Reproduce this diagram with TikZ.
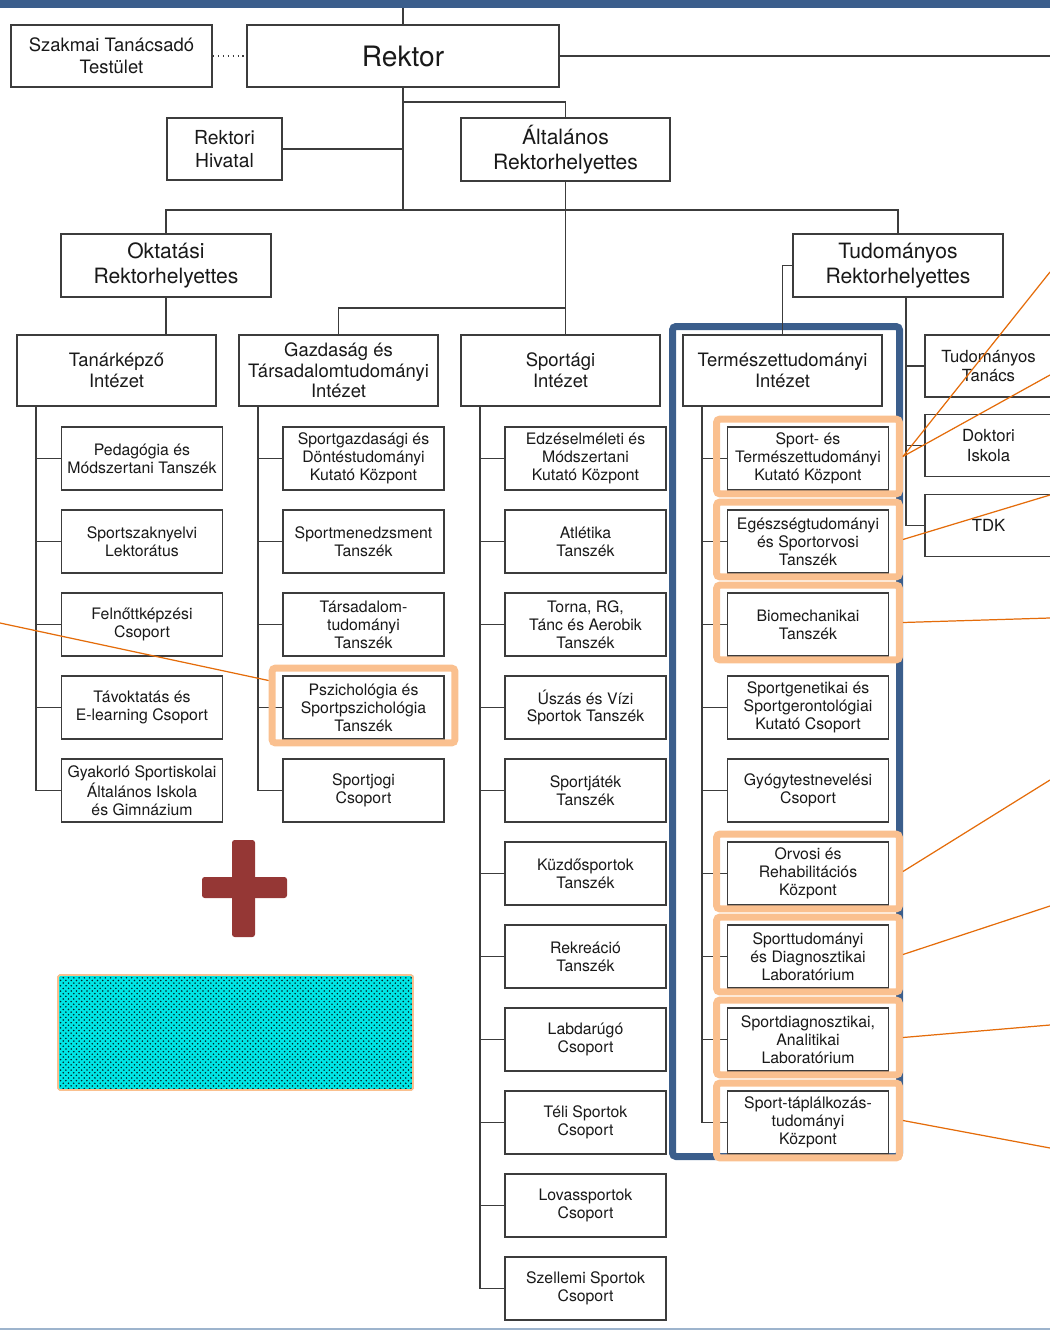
\documentclass[tikz,border=0pt]{standalone}
\usepackage{fontspec}
\setmainfont{TeX Gyre Heros}
\usetikzlibrary{fit,patterns}

\definecolor{frameBlue}{RGB}{59,94,140}
\definecolor{lineBlue}{RGB}{157,180,205}
\definecolor{peach}{RGB}{250,192,143}
\definecolor{ptrOrange}{RGB}{228,108,10}
\definecolor{plusRed}{RGB}{149,55,53}
\definecolor{boxGray}{RGB}{60,60,60}
\definecolor{textGray}{RGB}{25,25,25}
\definecolor{tileCyan}{RGB}{0,230,230}

\tikzset{
	orgbox/.style={rectangle, draw=boxGray, line width=1.1pt, fill=white, text=textGray, align=center, inner sep=1pt},
	leadbox/.style={orgbox, minimum width=4.2cm, minimum height=1.26cm, font=\fontsize{12}{14}\selectfont},
	instbox/.style={orgbox, minimum width=3.98cm, minimum height=1.42cm, font=\fontsize{10.5}{11.8}\selectfont},
	unitbox/.style={orgbox, minimum width=3.22cm, minimum height=1.26cm, font=\fontsize{9}{10.2}\selectfont},
	sidebox/.style={orgbox, minimum width=2.54cm, minimum height=1.24cm, font=\fontsize{9.5}{11}\selectfont},
	conn/.style={draw=boxGray, line width=0.8pt},
	hilite/.style={draw=peach, line width=0.14cm, rounded corners=2pt, inner xsep=0.2cm, inner ysep=0.1cm, yshift=0.04cm},
	pointer/.style={draw=ptrOrange, line width=0.7pt}
}

\begin{document}
\begin{tikzpicture}[x=0.02cm, y=-0.02cm]
	\useasboundingbox (0,0) rectangle (1050,1331);

	% page bars
	\fill[frameBlue] (0,0) rectangle (1050,8);
	\draw[lineBlue, line width=1.5pt] (0,1329) -- (1050,1329);

	% frame round the natural science institute
	\draw[frameBlue, line width=0.14cm, rounded corners=2pt] (672.5,326.5) rectangle (899.5,1156.5);

	% top level
	\node[orgbox, minimum width=4.02cm, minimum height=1.24cm, font=\fontsize{10.5}{12.5}\selectfont](szakmaiBox) at (111.5,56){Szakmai Tanácsadó\\Testület};
	\node[orgbox, minimum width=6.24cm, minimum height=1.24cm, font=\fontsize{16}{18}\selectfont](rektorBox) at (403,56){Rektor};
	\node[orgbox, minimum width=2.3cm, minimum height=1.24cm, font=\fontsize{11}{13}\selectfont](hivatalBox) at (224.5,149){Rektori\\Hivatal};
	\node[leadbox, minimum width=4.18cm](altBox) at (565.5,149.5){Általános\\Rektorhelyettes};
	\node[leadbox](oktBox) at (166,265.5){Oktatási\\Rektorhelyettes};
	\node[leadbox](tudBox) at (898,265.5){Tudományos\\Rektorhelyettes};

	% institutes
	\node[instbox](tanarBox) at (116.5,370.5){Tanárképző\\Intézet};
	\node[instbox](gazdBox) at (338.5,370.5){Gazdaság és\\Társadalomtudományi\\Intézet};
	\node[instbox](sportagiBox) at (560.5,370.5){Sportági\\Intézet};
	\node[instbox](termBox) at (782.5,370.5){Természettudományi\\Intézet};

	\node[sidebox](tanacsBox) at (988.5,366){Tudományos\\Tanács};
	\node[sidebox](doktoriBox) at (988.5,445.5){Doktori\\Iskola};
	\node[sidebox](tdkBox) at (988.5,525.5){TDK};

	% Tanárképző Intézet
	\node[unitbox](pedBox) at (142,458.5){Pedagógia és\\Módszertani Tanszék};
	\node[unitbox](nyelvBox) at (142,541.5){Sportszaknyelvi\\Lektorátus};
	\node[unitbox](felnottBox) at (142,624.5){Felnőttképzési\\Csoport};
	\node[unitbox](tavBox) at (142,707.5){Távoktatás és\\E-learning Csoport};
	\node[unitbox](gyakBox) at (142,790.5){Gyakorló Sportiskolai\\Általános Iskola\\és Gimnázium};

	% Gazdaság és Társadalomtudományi Intézet
	\node[unitbox](dontesBox) at (363.5,458.5){Sportgazdasági és\\Döntéstudományi\\Kutató Központ};
	\node[unitbox](menedzsBox) at (363.5,541.5){Sportmenedzsment\\Tanszék};
	\node[unitbox](tarsBox) at (363.5,624.5){Társadalom-\\tudományi\\Tanszék};
	\node[unitbox](pszichBox) at (363.5,707.5){Pszichológia és\\Sportpszichológia\\Tanszék};
	\node[unitbox](jogiBox) at (363.5,790.5){Sportjogi\\Csoport};

	% Sportági Intézet
	\node[unitbox](edzesBox) at (585.5,458.5){Edzéselméleti és\\Módszertani\\Kutató Központ};
	\node[unitbox](atlBox) at (585.5,541.5){Atlétika\\Tanszék};
	\node[unitbox](tornaBox) at (585.5,624.5){Torna, RG,\\Tánc és Aerobik\\Tanszék};
	\node[unitbox](uszasBox) at (585.5,707.5){Úszás és Vízi\\Sportok Tanszék};
	\node[unitbox](jatekBox) at (585.5,790.5){Sportjáték\\Tanszék};
	\node[unitbox](kuzdoBox) at (585.5,873.5){Küzdősportok\\Tanszék};
	\node[unitbox](rekreBox) at (585.5,956.5){Rekreáció\\Tanszék};
	\node[unitbox](labdaBox) at (585.5,1039.5){Labdarúgó\\Csoport};
	\node[unitbox](teliBox) at (585.5,1122.5){Téli Sportok\\Csoport};
	\node[unitbox](lovasBox) at (585.5,1205.5){Lovassportok\\Csoport};
	\node[unitbox](szellemBox) at (585.5,1288.5){Szellemi Sportok\\Csoport};

	% Természettudományi Intézet
	\node[unitbox](sportTermBox) at (808,458.5){Sport- és\\Természettudományi\\Kutató Központ};
	\node[unitbox](egeszBox) at (808,541.5){Egészségtudományi\\és Sportorvosi\\Tanszék};
	\node[unitbox](biomechBox) at (808,624.5){Biomechanikai\\Tanszék};
	\node[unitbox](genetBox) at (808,707.5){Sportgenetikai és\\Sportgerontológiai\\Kutató Csoport};
	\node[unitbox](gyogyBox) at (808,790.5){Gyógytestnevelési\\Csoport};
	\node[unitbox](orvosiBox) at (808,873.5){Orvosi és\\Rehabilitációs\\Központ};
	\node[unitbox](sporttudBox) at (808,956.5){Sporttudományi\\és Diagnosztikai\\Laboratórium};
	\node[unitbox](diagBox) at (808,1039.5){Sportdiagnosztikai,\\Analitikai\\Laboratórium};
	\node[unitbox](taplalkBox) at (808,1122.5){Sport-táplálkozás-\\tudományi\\Központ};

	% connectors of the upper levels
	\coordinate (split) at (403,210);
	\coordinate (gazdSplit) at (566,308);
	\coordinate (tudTrunk) at (906,525.5);
	\coordinate (rektorEnd) at (1050,56);
	\draw[conn, dotted] (szakmaiBox.east) -- (rektorBox.west);
	\draw[conn] (rektorBox.north) -- (rektorBox.north |- 0,8);
	\draw[conn] (rektorBox.east) -- (rektorEnd);
	\draw[conn] (rektorBox.south) -- (split);
	\draw[conn] (rektorBox.south) -- ++(0,14) -| (altBox.north);
	\draw[conn] (hivatalBox.east) -- (hivatalBox.east -| split);
	\draw[conn] (oktBox.north) |- (split) -| (tudBox.north);
	\draw[conn] (altBox.south) -- (altBox.south |- sportagiBox.north);
	\draw[conn] (gazdBox.north) |- (gazdSplit);
	\draw[conn] (oktBox.south) -- (oktBox.south |- tanarBox.north);
	\draw[conn] (tudBox.west) -| (termBox.north);
	\draw[conn] (tudBox.south -| tudTrunk) -- (tudTrunk);
	\draw[conn] (tanacsBox.west) -- (tanacsBox.west -| tudTrunk);
	\draw[conn] (doktoriBox.west) -- (doktoriBox.west -| tudTrunk);
	\draw[conn] (tdkBox.west) -- (tdkBox.west -| tudTrunk);

	% connectors of the units
	\coordinate (tanarTrunk) at ([xshift=0.4cm]tanarBox.south west);
	\coordinate (gazdTrunk) at ([xshift=0.4cm]gazdBox.south west);
	\coordinate (sportagiTrunk) at ([xshift=0.4cm]sportagiBox.south west);
	\coordinate (termTrunk) at ([xshift=0.4cm]termBox.south west);

	\draw[conn] (tanarTrunk) |- (gyakBox.west);
	\draw[conn] (pedBox.west) -- (pedBox.west -| tanarTrunk);
	\draw[conn] (nyelvBox.west) -- (nyelvBox.west -| tanarTrunk);
	\draw[conn] (felnottBox.west) -- (felnottBox.west -| tanarTrunk);
	\draw[conn] (tavBox.west) -- (tavBox.west -| tanarTrunk);

	\draw[conn] (gazdTrunk) |- (jogiBox.west);
	\draw[conn] (dontesBox.west) -- (dontesBox.west -| gazdTrunk);
	\draw[conn] (menedzsBox.west) -- (menedzsBox.west -| gazdTrunk);
	\draw[conn] (tarsBox.west) -- (tarsBox.west -| gazdTrunk);
	\draw[conn] (pszichBox.west) -- (pszichBox.west -| gazdTrunk);

	\draw[conn] (sportagiTrunk) |- (szellemBox.west);
	\draw[conn] (edzesBox.west) -- (edzesBox.west -| sportagiTrunk);
	\draw[conn] (atlBox.west) -- (atlBox.west -| sportagiTrunk);
	\draw[conn] (tornaBox.west) -- (tornaBox.west -| sportagiTrunk);
	\draw[conn] (uszasBox.west) -- (uszasBox.west -| sportagiTrunk);
	\draw[conn] (jatekBox.west) -- (jatekBox.west -| sportagiTrunk);
	\draw[conn] (kuzdoBox.west) -- (kuzdoBox.west -| sportagiTrunk);
	\draw[conn] (rekreBox.west) -- (rekreBox.west -| sportagiTrunk);
	\draw[conn] (labdaBox.west) -- (labdaBox.west -| sportagiTrunk);
	\draw[conn] (teliBox.west) -- (teliBox.west -| sportagiTrunk);
	\draw[conn] (lovasBox.west) -- (lovasBox.west -| sportagiTrunk);

	\draw[conn] (termTrunk) |- (taplalkBox.west);
	\draw[conn] (sportTermBox.west) -- (sportTermBox.west -| termTrunk);
	\draw[conn] (egeszBox.west) -- (egeszBox.west -| termTrunk);
	\draw[conn] (biomechBox.west) -- (biomechBox.west -| termTrunk);
	\draw[conn] (genetBox.west) -- (genetBox.west -| termTrunk);
	\draw[conn] (gyogyBox.west) -- (gyogyBox.west -| termTrunk);
	\draw[conn] (orvosiBox.west) -- (orvosiBox.west -| termTrunk);
	\draw[conn] (sporttudBox.west) -- (sporttudBox.west -| termTrunk);
	\draw[conn] (diagBox.west) -- (diagBox.west -| termTrunk);

	% highlighted units
	\node[hilite, fit=(pszichBox)](pszichHi){};
	\node[hilite, fit=(sportTermBox)](sportTermHi){};
	\node[hilite, fit=(egeszBox)](egeszHi){};
	\node[hilite, fit=(biomechBox)](biomechHi){};
	\node[hilite, fit=(orvosiBox)](orvosiHi){};
	\node[hilite, fit=(sporttudBox)](sporttudHi){};
	\node[hilite, fit=(diagBox)](diagHi){};
	\node[hilite, fit=(taplalkBox)](taplalkHi){};

	% plus sign and tile
	\fill[plusRed, rounded corners=1.5pt] (232,840) rectangle (255,937);
	\fill[plusRed, rounded corners=1.5pt] (202,877) rectangle (287,898);
	\fill[tileCyan] (58,975) rectangle (413,1090);
	\fill[pattern=crosshatch dots, pattern color=teal!30!black] (58,975) rectangle (413,1090);
	\draw[peach, line width=1pt, rounded corners=1pt] (58,975) rectangle (413,1090);

	% pointers
	\coordinate (ptrLeft) at (0,623);
	\coordinate (ptrA) at (1050,272);
	\coordinate (ptrB) at (1050,375);
	\coordinate (ptrC) at (1050,495);
	\coordinate (ptrD) at (1050,618);
	\coordinate (ptrE) at (1050,780);
	\coordinate (ptrF) at (1050,906);
	\coordinate (ptrG) at (1050,1025);
	\coordinate (ptrH) at (1050,1148);
	\draw[pointer] (ptrLeft) -- ([yshift=0.5cm]pszichHi.west);
	\draw[pointer] (sportTermHi.east) -- (ptrA);
	\draw[pointer] (sportTermHi.east) -- (ptrB);
	\draw[pointer] (egeszHi.east) -- (ptrC);
	\draw[pointer] (biomechHi.east) -- (ptrD);
	\draw[pointer] (orvosiHi.east) -- (ptrE);
	\draw[pointer] (sporttudHi.east) -- (ptrF);
	\draw[pointer] (diagHi.east) -- (ptrG);
	\draw[pointer] (taplalkHi.east) -- (ptrH);
\end{tikzpicture}
\end{document}
